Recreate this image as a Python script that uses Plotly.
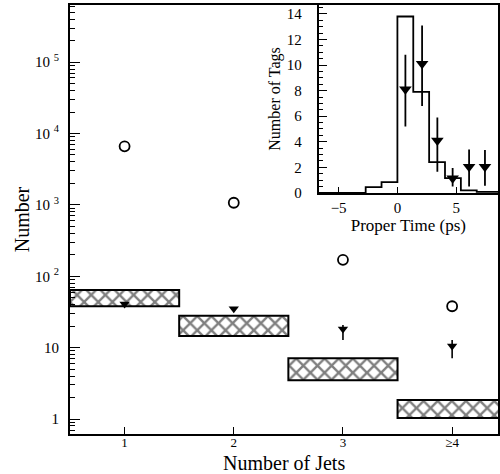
import plotly.graph_objects as go

# ---- main panel data ----
jets = [1, 2, 3, 4]
jet_labels = ["1", "2", "3", "≥4"]
circles = [6600, 1070, 170, 38]
tri_vals = [41, 35, 18.2, 10.5]
tri_err_plus = [0, 0, 2.5, 2.3]
tri_err_minus = [0, 0, 5.4, 3.4]
box_low = [38, 14.5, 3.5, 1.03]
box_high = [64, 28, 7.1, 1.85]

# ---- inset data ----
hist_edges = [-6.7, -2.7, -1.35, 0, 1.35, 2.7, 4.05, 5.4, 6.75, 8.6]
hist_vals = [0, 0.45, 0.85, 13.8, 7.9, 2.4, 1.15, 0.2, 0.08]
pt_x = [0.68, 2.1, 3.4, 4.7, 6.1, 7.45]
pt_y = [8.1, 10.1, 4.1, 1.15, 2.05, 2.05]
pt_err_plus = [2.7, 3.0, 1.8, 0.8, 1.35, 1.3]
pt_err_minus = [2.9, 3.3, 2.45, 0.65, 1.55, 1.5]

FONT = "Liberation Serif"
BLACK = "#000000"

fig = go.Figure()

fig.add_trace(go.Bar(
    x=jets, y=[h - l for h, l in zip(box_high, box_low)], base=box_low,
    width=1.0,
    marker=dict(color="white", line=dict(color=BLACK, width=2),
                pattern=dict(shape="x", fgcolor=BLACK, bgcolor="white",
                             size=10, solidity=0.42, fillmode="overlay")),
    showlegend=False, xaxis="x", yaxis="y",
))

fig.add_trace(go.Scatter(
    x=jets, y=circles, mode="markers",
    marker=dict(symbol="circle-open", size=10, color=BLACK, line=dict(width=1.8)),
    showlegend=False, xaxis="x", yaxis="y",
))

fig.add_trace(go.Scatter(
    x=jets, y=tri_vals, mode="markers",
    marker=dict(symbol="triangle-down", size=9, color=BLACK),
    error_y=dict(type="data", array=tri_err_plus, arrayminus=tri_err_minus,
                 color=BLACK, thickness=1.6, width=0),
    showlegend=False, xaxis="x", yaxis="y",
))

# inset histogram
fig.add_trace(go.Scatter(
    x=hist_edges, y=hist_vals + [hist_vals[-1]], mode="lines",
    line=dict(shape="hv", color=BLACK, width=1.8),
    showlegend=False, xaxis="x2", yaxis="y2",
))
fig.add_trace(go.Scatter(
    x=pt_x, y=pt_y, mode="markers",
    marker=dict(symbol="triangle-down", size=11, color=BLACK),
    error_y=dict(type="data", array=pt_err_plus, arrayminus=pt_err_minus,
                 color=BLACK, thickness=1.8, width=0),
    showlegend=False, xaxis="x2", yaxis="y2",
))

decades = [1, 10, 100, 1000, 10000, 100000]
minor_vals = [m * d for d in [0.1] + decades for m in range(2, 10)]

fig.update_layout(
    width=500, height=474,
    margin=dict(l=70, r=0, t=5, b=40),
    paper_bgcolor="white", plot_bgcolor="rgba(0,0,0,0)",
    font=dict(family=FONT, color=BLACK, size=13),
    xaxis=dict(
        range=[0.5, 4.42], domain=[0, 1],
        tickmode="array", tickvals=jets, ticktext=jet_labels,
        ticks="inside", ticklen=7, tickwidth=1.3, tickcolor=BLACK,
        showline=True, linecolor=BLACK, linewidth=1.8, mirror=True,
        showgrid=False, zeroline=False,
        ticklabelstandoff=-5,
        tickfont=dict(family=FONT, size=13, color=BLACK),
    ),
    yaxis=dict(
        type="log", range=[-0.21, 5.80], domain=[0, 1],
        tickmode="array", tickvals=decades,
        ticktext=["1", "10", "10 <sup>2</sup>", "10 <sup>3</sup>", "10 <sup>4</sup>", "10 <sup>5</sup>"],
        ticks="inside", ticklen=10, tickwidth=1.3, tickcolor=BLACK,
        minor=dict(tickmode="array", tickvals=minor_vals, ticks="inside",
                   ticklen=5, tickwidth=1, tickcolor=BLACK, showgrid=False),
        showline=True, linecolor=BLACK, linewidth=1.8, mirror=True,
        showgrid=False, zeroline=False,
        ticklabelstandoff=6,
        tickfont=dict(family=FONT, size=15, color=BLACK),
        title=dict(text="Number", font=dict(family=FONT, size=20, color=BLACK), standoff=0),
    ),
    xaxis2=dict(
        range=[-6.7, 8.56], domain=[0.581, 1.0], anchor="y2",
        tickvals=[-5, 0, 5], ticks="inside", ticklen=6, tickwidth=1.3, tickcolor=BLACK,
        showline=True, linecolor=BLACK, linewidth=1.8,
        showgrid=False, zeroline=False,
        tickfont=dict(family=FONT, size=15, color=BLACK),
        title=dict(text="Proper Time (ps)", font=dict(family=FONT, size=17, color=BLACK), standoff=2),
    ),
    yaxis2=dict(
        range=[0, 14.7], domain=[0.562, 1.0], anchor="x2",
        tickvals=[0, 2, 4, 6, 8, 10, 12, 14], ticks="inside", ticklen=8, tickwidth=1.3,
        tickcolor=BLACK,
        minor=dict(dtick=0.5, ticks="inside", ticklen=4, tickwidth=1, tickcolor=BLACK,
                   showgrid=False),
        showline=True, linecolor=BLACK, linewidth=1.8,
        showgrid=False, zeroline=False,
        ticklabelstandoff=12,
        tickfont=dict(family=FONT, size=15, color=BLACK),
        title=dict(text="Number of Tags", font=dict(family=FONT, size=16, color=BLACK), standoff=2),
    ),
    annotations=[dict(
        text="Number of Jets", xref="paper", yref="paper", x=0.5, y=-0.068,
        xanchor="center", yanchor="middle", showarrow=False,
        font=dict(family=FONT, size=20, color=BLACK),
    )],
)

fig.write_html("out.html")
